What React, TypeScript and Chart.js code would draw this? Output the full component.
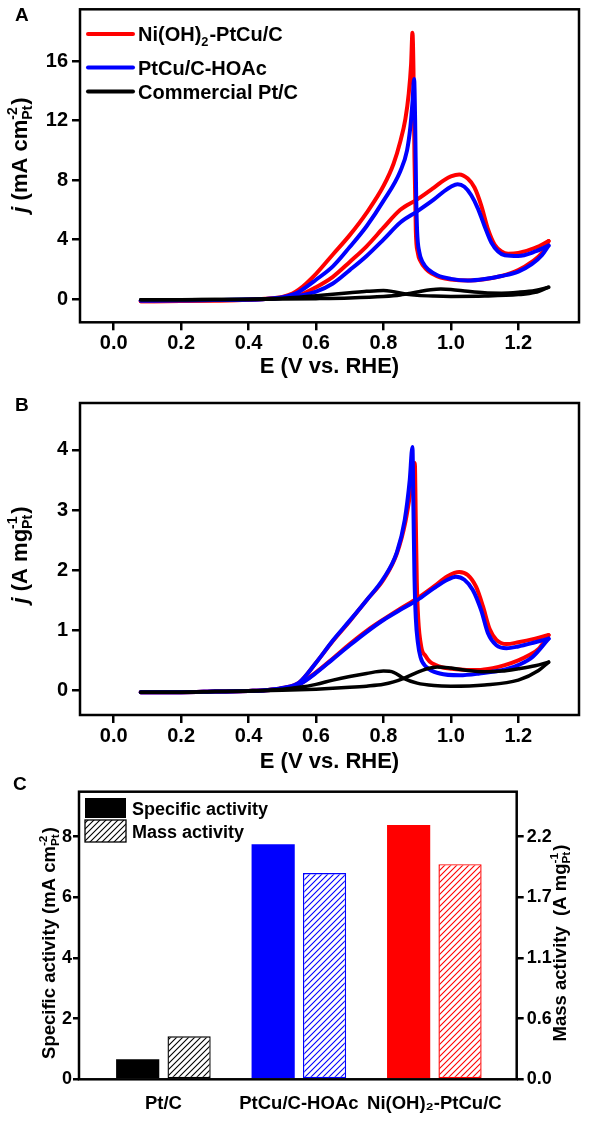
import React, { useEffect, useRef } from 'react';
import { Chart, registerables } from 'chart.js';

Chart.register(...registerables);

const FONT = '"Liberation Sans", Arial, Helvetica, sans-serif';
const RED = '#ff0000';
const BLUE = '#0000ff';
const BLACK = '#000000';

// ---------- shared axis ticks ----------
const xTicks = [0, 0.2, 0.4, 0.6, 0.8, 1.0, 1.2];
const X_MIN = -0.1;
const X_MAX = 1.38;
const xTitle = 'E (V vs. RHE)';

// ---------- Panel A : specific current (mA cm-2 Pt) ----------
const yTicksA = [0, 4, 8, 12, 16];
const niFwdA = [[0.08,-0.15],[0.2,-0.12],[0.3,-0.1],[0.4,-0.05],[0.45,0.0],[0.5,0.1],[0.53,0.18],[0.55,0.26],[0.6,0.8],[0.65,1.5],[0.7,2.5],[0.75,3.55],[0.8,4.8],[0.85,6.0],[0.9,6.7],[0.95,7.5],[0.98,8.0],[1.0,8.25],[1.025,8.38],[1.05,8.1],[1.07,7.5],[1.09,6.3],[1.11,4.7],[1.13,3.65],[1.15,3.2],[1.17,3.05],[1.2,3.1],[1.25,3.45],[1.29,3.9]];
const niRevA = [[0.08,-0.15],[0.2,-0.12],[0.3,-0.1],[0.4,-0.05],[0.45,0.02],[0.5,0.15],[0.53,0.38],[0.55,0.65],[0.6,1.7],[0.65,3.0],[0.7,4.3],[0.75,5.8],[0.8,7.6],[0.83,9.1],[0.85,10.6],[0.865,12.1],[0.875,13.8],[0.882,15.8],[0.886,17.9],[0.889,15.5],[0.892,9.5],[0.896,4.6],[0.902,3.1],[0.91,2.55],[0.925,2.05],[0.945,1.7],[0.97,1.45],[1.0,1.32],[1.05,1.25],[1.1,1.33],[1.15,1.55],[1.2,1.95],[1.24,2.5],[1.27,3.1],[1.29,3.9]];
const ptcuFwdA = [[0.08,-0.1],[0.2,-0.08],[0.3,-0.06],[0.4,-0.03],[0.45,0.0],[0.5,0.08],[0.53,0.16],[0.55,0.22],[0.6,0.5],[0.65,1.05],[0.7,1.95],[0.75,2.9],[0.8,4.0],[0.85,5.15],[0.9,5.9],[0.95,6.7],[0.98,7.25],[1.0,7.55],[1.02,7.72],[1.04,7.55],[1.06,7.0],[1.08,6.1],[1.1,4.9],[1.12,3.8],[1.14,3.2],[1.16,2.95],[1.2,2.9],[1.25,3.2],[1.29,3.6]];
const ptcuRevA = [[0.08,-0.1],[0.2,-0.08],[0.3,-0.06],[0.4,-0.03],[0.45,0.01],[0.5,0.12],[0.53,0.3],[0.55,0.5],[0.6,1.3],[0.65,2.2],[0.7,3.5],[0.75,4.9],[0.8,6.6],[0.85,8.6],[0.87,10.0],[0.88,11.6],[0.886,13.2],[0.891,14.8],[0.894,12.0],[0.897,7.0],[0.9,4.5],[0.906,3.2],[0.917,2.45],[0.935,1.95],[0.96,1.6],[1.0,1.36],[1.05,1.25],[1.1,1.35],[1.15,1.55],[1.2,1.85],[1.24,2.35],[1.27,2.95],[1.29,3.6]];
const ptcFwdA = [[0.08,-0.05],[0.2,-0.04],[0.3,-0.03],[0.4,-0.02],[0.5,0.0],[0.6,0.03],[0.7,0.08],[0.8,0.18],[0.85,0.28],[0.9,0.48],[0.94,0.63],[0.97,0.68],[1.0,0.65],[1.05,0.52],[1.1,0.42],[1.15,0.4],[1.2,0.46],[1.25,0.58],[1.29,0.8]];
const ptcRevA = [[0.08,-0.05],[0.2,-0.04],[0.3,-0.03],[0.4,-0.01],[0.5,0.05],[0.55,0.12],[0.6,0.22],[0.7,0.42],[0.75,0.52],[0.8,0.58],[0.83,0.5],[0.87,0.32],[0.9,0.25],[0.95,0.2],[1.0,0.18],[1.1,0.2],[1.2,0.3],[1.25,0.45],[1.29,0.8]];

// ---------- Panel B : mass current (A mg-1 Pt) ----------
const yTicksB = [0, 1, 2, 3, 4];
const niFwdB = [[0.08,-0.03],[0.2,-0.03],[0.3,-0.02],[0.4,-0.01],[0.45,0.0],[0.5,0.03],[0.55,0.1],[0.6,0.3],[0.65,0.53],[0.7,0.77],[0.75,0.99],[0.8,1.18],[0.85,1.36],[0.9,1.53],[0.95,1.73],[0.99,1.9],[1.025,1.97],[1.05,1.92],[1.075,1.72],[1.095,1.4],[1.115,1.02],[1.135,0.84],[1.165,0.77],[1.2,0.8],[1.25,0.86],[1.29,0.92]];
const niRevB = [[0.08,-0.03],[0.2,-0.03],[0.3,-0.02],[0.4,-0.01],[0.45,0.0],[0.5,0.04],[0.55,0.13],[0.6,0.46],[0.65,0.82],[0.7,1.15],[0.75,1.5],[0.8,1.84],[0.84,2.28],[0.865,2.8],[0.88,3.3],[0.888,3.62],[0.893,3.78],[0.896,2.8],[0.899,1.8],[0.903,1.2],[0.912,0.73],[0.925,0.57],[0.937,0.48],[0.955,0.42],[0.976,0.38],[1.0,0.36],[1.046,0.34],[1.08,0.34],[1.124,0.37],[1.16,0.42],[1.2,0.5],[1.23,0.58],[1.262,0.7],[1.29,0.92]];
const ptcuFwdB = [[0.08,-0.03],[0.2,-0.03],[0.3,-0.02],[0.4,-0.01],[0.45,0.0],[0.5,0.03],[0.55,0.1],[0.6,0.29],[0.65,0.52],[0.7,0.75],[0.75,0.97],[0.8,1.17],[0.85,1.34],[0.9,1.5],[0.95,1.7],[0.99,1.84],[1.015,1.89],[1.04,1.84],[1.065,1.67],[1.09,1.33],[1.11,0.95],[1.135,0.75],[1.165,0.7],[1.2,0.73],[1.25,0.8],[1.29,0.86]];
const ptcuRevB = [[0.08,-0.03],[0.2,-0.03],[0.3,-0.02],[0.4,-0.01],[0.45,0.0],[0.5,0.04],[0.55,0.13],[0.6,0.46],[0.65,0.83],[0.7,1.16],[0.75,1.5],[0.8,1.86],[0.84,2.3],[0.863,2.83],[0.878,3.5],[0.886,4.05],[0.889,3.0],[0.892,1.9],[0.896,1.2],[0.902,0.8],[0.91,0.55],[0.927,0.39],[0.967,0.28],[1.026,0.25],[1.085,0.28],[1.164,0.35],[1.2,0.42],[1.243,0.56],[1.29,0.86]];
const ptcFwdB = [[0.08,-0.03],[0.2,-0.03],[0.3,-0.02],[0.4,-0.01],[0.5,0.0],[0.6,0.02],[0.7,0.05],[0.75,0.07],[0.8,0.1],[0.83,0.14],[0.86,0.2],[0.9,0.3],[0.93,0.36],[0.96,0.39],[1.0,0.37],[1.05,0.33],[1.1,0.31],[1.15,0.32],[1.2,0.36],[1.25,0.41],[1.29,0.47]];
const ptcRevB = [[0.08,-0.03],[0.2,-0.03],[0.3,-0.02],[0.4,-0.01],[0.5,0.02],[0.55,0.05],[0.6,0.1],[0.65,0.17],[0.7,0.23],[0.75,0.28],[0.8,0.32],[0.83,0.3],[0.86,0.2],[0.9,0.12],[0.95,0.08],[1.0,0.07],[1.1,0.09],[1.2,0.17],[1.26,0.33],[1.29,0.47]];

// ---------- Panel C : activities ----------
const categories = ['Pt/C', 'PtCu/C-HOAc', 'Ni(OH)\u2082-PtCu/C'];
const specificActivity = [0.66, 7.75, 8.38];
const massActivity = [0.39, 1.87, 1.95];
const barColors = [BLACK, BLUE, RED];
const yTicksC = [0, 2, 4, 6, 8];
const massTickValues = [0, 0.55, 1.1, 1.65, 2.2];
const massTickLabels = ['0.0', '0.6', '1.1', '1.7', '2.2'];
const C_LEFT_MAX = 9.48;
const MASS_PER_SPECIFIC = 0.275;

// ---------- legend / title texts ----------
type Seg = { t?: string; italic?: boolean; sup?: string; sub?: string };
const legendA: { color: string; segs: Seg[] }[] = [
  { color: RED, segs: [{ t: 'Ni(OH)' }, { sub: '2' }, { t: '-PtCu/C' }] },
  { color: BLUE, segs: [{ t: 'PtCu/C-HOAc' }] },
  { color: BLACK, segs: [{ t: 'Commercial Pt/C' }] },
];
const yTitleA: Seg[] = [{ t: 'j', italic: true }, { t: ' (mA cm' }, { sup: '-2', sub: 'Pt' }, { t: ')' }];
const yTitleB: Seg[] = [{ t: 'j', italic: true }, { t: ' (A mg' }, { sup: '-1', sub: 'Pt' }, { t: ')' }];
const yTitleCLeft: Seg[] = [{ t: 'Specific activity (mA cm' }, { sup: '-2', sub: 'Pt' }, { t: ')' }];
const yTitleCRight: Seg[] = [{ t: 'Mass activity  (A mg' }, { sup: '-1', sub: 'Pt' }, { t: ')' }];
const legendC = ['Specific activity', 'Mass activity'];

function fontStr(size: number, italic = false) {
  return `${italic ? 'italic ' : ''}bold ${size}px ${FONT}`;
}

function drawRich(ctx: CanvasRenderingContext2D, segs: Seg[], x: number, y: number, size: number, rotated: boolean, align: 'center' | 'left') {
  const small = size * 0.64;
  ctx.save();
  ctx.translate(x, y);
  if (rotated) ctx.rotate(-Math.PI / 2);
  ctx.fillStyle = '#000';
  ctx.textBaseline = 'alphabetic';
  ctx.textAlign = 'left';
  const widths = segs.map((s) => {
    if (s.t !== undefined) {
      ctx.font = fontStr(size, s.italic);
      return ctx.measureText(s.t).width;
    }
    ctx.font = fontStr(small);
    return Math.max(s.sup ? ctx.measureText(s.sup).width : 0, s.sub ? ctx.measureText(s.sub).width : 0) + 1;
  });
  const total = widths.reduce((a, b) => a + b, 0);
  let cx = align === 'center' ? -total / 2 : 0;
  segs.forEach((s, i) => {
    if (s.t !== undefined) {
      ctx.font = fontStr(size, s.italic);
      ctx.fillText(s.t, cx, 0);
    } else {
      ctx.font = fontStr(small);
      if (s.sup) ctx.fillText(s.sup, cx, -size * 0.45);
      if (s.sub) ctx.fillText(s.sub, cx, size * 0.22);
    }
    cx += widths[i];
  });
  ctx.restore();
}

function drawLetter(ctx: CanvasRenderingContext2D, letter: string, x: number, cy: number) {
  ctx.save();
  ctx.font = fontStr(19);
  ctx.fillStyle = '#000';
  ctx.textBaseline = 'alphabetic';
  ctx.textAlign = 'left';
  ctx.fillText(letter, x, cy + 0.36 * 19);
  ctx.restore();
}

function drawFrame(chart: any) {
  const a = chart.chartArea;
  const ctx = chart.ctx;
  ctx.save();
  ctx.lineWidth = 2.5;
  ctx.strokeStyle = '#000';
  ctx.strokeRect(a.left, a.top, a.right - a.left, a.bottom - a.top);
  ctx.restore();
}

function makeHatch(color: string): CanvasPattern {
  const s = 6;
  const c = document.createElement('canvas');
  c.width = s;
  c.height = s;
  const g = c.getContext('2d')!;
  g.fillStyle = '#ffffff';
  g.fillRect(0, 0, s, s);
  g.strokeStyle = color;
  g.lineWidth = 1.1;
  g.beginPath();
  g.moveTo(-1, s + 1);
  g.lineTo(s + 1, -1);
  g.moveTo(-1, 1);
  g.lineTo(1, -1);
  g.moveTo(s - 1, s + 1);
  g.lineTo(s + 1, s - 1);
  g.stroke();
  return g.createPattern(c, 'repeat')!;
}

const tickFont = (size: number) => ({ family: FONT, size, weight: 'bold' as const });

function curve(pts: number[][], color: string, width = 4) {
  return {
    data: pts.map(([x, y]) => ({ x, y })),
    borderColor: color,
    backgroundColor: color,
    borderWidth: width,
    pointRadius: 0,
    showLine: true,
    fill: false,
    cubicInterpolationMode: 'monotone' as const,
    borderCapStyle: 'round' as const,
    borderJoinStyle: 'round' as const,
  };
}

function cvConfig(p: {
  curves: any[];
  yMin: number;
  yMax: number;
  yTicks: number[];
  areaTop: number;
  xAxisH: number;
  xTitlePad: number;
  letter: string;
  letterY: number;
  yTitle: Seg[];
  yTitleY: number;
  legend: boolean;
}) {
  const plugin = {
    id: 'panel' + p.letter,
    afterDraw(chart: any) {
      const ctx = chart.ctx;
      drawFrame(chart);
      drawLetter(ctx, p.letter, 15, p.letterY);
      drawRich(ctx, p.yTitle, 27, p.yTitleY, 22, true, 'center');
      if (p.legend) {
        const rows = [34, 67.5, 91.5];
        legendA.forEach((item, i) => {
          ctx.save();
          ctx.strokeStyle = item.color;
          ctx.lineWidth = 4;
          ctx.lineCap = 'round';
          ctx.beginPath();
          ctx.moveTo(88, rows[i]);
          ctx.lineTo(133, rows[i]);
          ctx.stroke();
          ctx.restore();
          drawRich(ctx, item.segs, 138, rows[i] + 7.2, 20, false, 'left');
        });
      }
    },
  };
  return {
    type: 'scatter',
    data: { datasets: p.curves },
    options: {
      animation: false,
      responsive: false,
      devicePixelRatio: 1,
      layout: { padding: { left: 0, right: 10, top: p.areaTop, bottom: 0 } },
      plugins: { legend: { display: false }, tooltip: { enabled: false } },
      scales: {
        x: {
          type: 'linear',
          min: X_MIN,
          max: X_MAX,
          bounds: 'data',
          afterBuildTicks: (s: any) => { s.ticks = xTicks.map((v) => ({ value: v })); },
          afterFit: (s: any) => { s.height = p.xAxisH; s.paddingLeft = 0; s.paddingRight = 0; s.paddingTop = 0; s.paddingBottom = 0; },
          ticks: { callback: (v: any) => Number(v).toFixed(1), font: tickFont(20), color: '#000', padding: 1, autoSkip: false, maxRotation: 0 },
          grid: { drawOnChartArea: false, drawTicks: true, tickLength: 8, color: '#000', lineWidth: 2.5 },
          border: { display: false },
          title: { display: true, text: xTitle, font: tickFont(22), color: '#000', padding: { top: 0, bottom: p.xTitlePad } },
        },
        y: {
          type: 'linear',
          min: p.yMin,
          max: p.yMax,
          bounds: 'data',
          afterBuildTicks: (s: any) => { s.ticks = p.yTicks.map((v) => ({ value: v })); },
          afterFit: (s: any) => { s.width = 80; s.paddingTop = 0; s.paddingBottom = 0; s.paddingLeft = 0; s.paddingRight = 0; },
          ticks: { callback: (v: any) => String(v), font: tickFont(20), color: '#000', padding: 4, autoSkip: false },
          grid: { drawOnChartArea: false, drawTicks: true, tickLength: 8, color: '#000', lineWidth: 2.5 },
          border: { display: false },
        },
      },
    },
    plugins: [plugin],
  };
}

function configA() {
  return cvConfig({
    curves: [
      curve(ptcFwdA, BLACK, 3.5), curve(ptcRevA, BLACK, 3.5),
      curve(ptcuFwdA, BLUE), curve(ptcuRevA, BLUE),
      curve(niFwdA, RED), curve(niRevA, RED),
    ],
    yMin: -1.56,
    yMax: 19.48,
    yTicks: yTicksA,
    areaTop: 9.3,
    xAxisH: 385 - 322.3,
    xTitlePad: 4.8,
    letter: 'A',
    letterY: 14,
    yTitle: yTitleA,
    yTitleY: 155,
    legend: true,
  });
}

function configB() {
  return cvConfig({
    curves: [
      curve(ptcFwdB, BLACK, 3.5), curve(ptcRevB, BLACK, 3.5),
      curve(ptcuFwdB, BLUE), curve(ptcuRevB, BLUE),
      curve(niFwdB, RED), curve(niRevB, RED),
    ],
    yMin: -0.41,
    yMax: 4.78,
    yTicks: yTicksB,
    areaTop: 18,
    xAxisH: 390 - 330,
    xTitlePad: 0.3,
    letter: 'B',
    letterY: 19,
    yTitle: yTitleB,
    yTitleY: 170,
    legend: false,
  });
}

function configC() {
  const hatches = barColors.map((c) => makeHatch(c));
  const legendHatch = makeHatch(BLACK);
  const plugin = {
    id: 'panelC',
    afterDraw(chart: any) {
      const ctx = chart.ctx;
      drawFrame(chart);
      drawLetter(ctx, 'C', 13, 13.5);
      drawRich(ctx, yTitleCLeft, 55, 173, 18.5, true, 'center');
      drawRich(ctx, yTitleCRight, 566, 173, 18.5, true, 'center');
      ctx.save();
      ctx.fillStyle = BLACK;
      ctx.fillRect(85, 28, 41, 20);
      ctx.fillStyle = legendHatch;
      ctx.fillRect(85, 50, 41, 22);
      ctx.strokeStyle = BLACK;
      ctx.lineWidth = 1.3;
      ctx.strokeRect(85, 50, 41, 22);
      ctx.restore();
      drawRich(ctx, [{ t: legendC[0] }], 132, 38 + 6.5, 18, false, 'left');
      drawRich(ctx, [{ t: legendC[1] }], 132, 61 + 6.5, 18, false, 'left');
    },
  };
  return {
    type: 'bar',
    data: {
      datasets: [
        {
          label: legendC[0],
          data: specificActivity.map((v, i) => ({ x: i + 1, y: v })),
          backgroundColor: barColors,
          borderColor: barColors,
          borderWidth: 0,
          yAxisID: 'y',
          categoryPercentage: 0.759,
          barPercentage: 0.84,
        },
        {
          label: legendC[1],
          data: massActivity.map((v, i) => ({ x: i + 1, y: v })),
          backgroundColor: hatches,
          borderColor: barColors,
          borderWidth: 1.4,
          borderSkipped: false,
          yAxisID: 'y2',
          categoryPercentage: 0.759,
          barPercentage: 0.84,
        },
      ],
    },
    options: {
      animation: false,
      responsive: false,
      devicePixelRatio: 1,
      layout: { padding: { left: 0, right: 0, top: 21.7, bottom: 0 } },
      plugins: { legend: { display: false }, tooltip: { enabled: false } },
      scales: {
        x: {
          type: 'linear',
          min: 0.377,
          max: 3.608,
          bounds: 'data',
          offset: false,
          afterBuildTicks: (s: any) => { s.ticks = categories.map((_, i) => ({ value: i + 1 })); },
          afterFit: (s: any) => { s.height = 351 - 309.3; s.paddingLeft = 0; s.paddingRight = 0; s.paddingTop = 0; s.paddingBottom = 0; },
          ticks: { callback: (_v: any, i: number) => categories[i], font: tickFont(18.5), color: '#000', padding: 13.6, autoSkip: false, maxRotation: 0 },
          grid: { display: false, drawTicks: false, drawOnChartArea: false, offset: false },
          border: { display: false },
        },
        y: {
          type: 'linear',
          position: 'left',
          min: 0,
          max: C_LEFT_MAX,
          bounds: 'data',
          afterBuildTicks: (s: any) => { s.ticks = yTicksC.map((v) => ({ value: v })); },
          afterFit: (s: any) => { s.width = 79; s.paddingTop = 0; s.paddingBottom = 0; s.paddingLeft = 0; s.paddingRight = 0; },
          ticks: { callback: (v: any) => String(v), font: tickFont(18), color: '#000', padding: 1, autoSkip: false },
          grid: { drawOnChartArea: false, drawTicks: true, tickLength: 6, color: '#000', lineWidth: 2.5 },
          border: { display: false },
        },
        y2: {
          type: 'linear',
          position: 'right',
          min: 0,
          max: C_LEFT_MAX * MASS_PER_SPECIFIC,
          bounds: 'data',
          afterBuildTicks: (s: any) => { s.ticks = massTickValues.map((v) => ({ value: v })); },
          afterFit: (s: any) => { s.width = 589 - 516.7; s.paddingTop = 0; s.paddingBottom = 0; s.paddingLeft = 0; s.paddingRight = 0; },
          ticks: { callback: (_v: any, i: number) => massTickLabels[i], font: tickFont(18), color: '#000', padding: 3, autoSkip: false },
          grid: { drawOnChartArea: false, drawTicks: true, tickLength: 7, color: '#000', lineWidth: 2.5 },
          border: { display: false },
        },
      },
    },
    plugins: [plugin],
  };
}

function ChartCanvas({ top, height, make }: { top: number; height: number; make: () => any }) {
  const ref = useRef<HTMLCanvasElement>(null);
  useEffect(() => {
    const chart = new Chart(ref.current as HTMLCanvasElement, make());
    return () => chart.destroy();
  }, []);
  return (
    <canvas
      ref={ref}
      width={589}
      height={height}
      style={{ position: 'absolute', left: 0, top, width: 589, height, display: 'block' }}
    />
  );
}

export default function App() {
  return (
    <div style={{ position: 'absolute', left: 0, top: 0, width: 589, height: 1121, background: '#fff', overflow: 'hidden' }}>
      <ChartCanvas top={0} height={385} make={configA} />
      <ChartCanvas top={385} height={390} make={configB} />
      <ChartCanvas top={770} height={351} make={configC} />
    </div>
  );
}
